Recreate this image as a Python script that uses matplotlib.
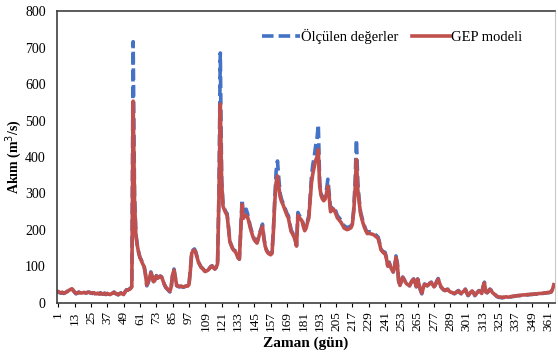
import numpy as np
import matplotlib.pyplot as plt

# daily flow, m3/s
olculen = [
    30, 28, 27, 29, 26, 28, 30, 33, 36, 38,
    40, 34, 29, 25, 27, 30, 28, 26, 28, 29,
    27, 28, 30, 29, 27, 26, 28, 25, 24, 27,
    22, 28, 25, 24, 27, 23, 26, 24, 22, 25,
    27, 30, 26, 24, 22, 25, 28, 24, 22, 30,
    36, 35, 38, 40, 45, 716, 300, 190, 160, 140,
    125, 118, 108, 102, 80, 47, 55, 70, 85, 72,
    57, 62, 75, 68, 72, 74, 71, 60, 50, 42,
    38, 34, 30, 45, 80, 93, 70, 47, 45, 44,
    46, 44, 43, 45, 47, 46, 50, 90, 139, 145,
    148, 140, 125, 112, 105, 98, 95, 90, 85, 88,
    90, 95, 100, 102, 97, 93, 98, 110, 300, 685,
    340, 270, 260, 250, 245, 210, 170, 160, 150, 145,
    143, 135, 125, 120, 200, 284, 239, 245, 257, 245,
    228, 211, 198, 184, 176, 170, 166, 180, 193, 205,
    216, 180, 157, 145, 139, 136, 134, 138, 200, 284,
    360, 389, 340, 300, 284, 275, 266, 255, 245, 239,
    220, 200, 193, 185, 175, 157, 248, 240, 235, 230,
    215, 202, 210, 225, 239, 290, 348, 380, 400, 430,
    450, 489, 330, 300, 290, 284, 290, 310, 339, 300,
    257, 262, 266, 260, 250, 239, 235, 230, 225, 218,
    211, 209, 207, 207, 209, 211, 220, 257, 330, 448,
    330, 284, 250, 235, 221, 210, 200, 193, 195, 195,
    194, 193, 190, 187, 184, 180, 165, 148, 143, 139,
    139, 125, 102, 112, 100, 92, 85, 100, 129, 110,
    60, 47, 60, 71, 65, 57, 52, 50, 47, 55,
    62, 66, 55, 44, 66, 50, 35, 25, 40, 52,
    50, 47, 50, 55, 57, 50, 44, 50, 60, 67,
    55, 44, 40, 36, 34, 36, 38, 33, 30, 29,
    27, 25, 28, 32, 34, 28, 25, 30, 34, 38,
    28, 20, 25, 30, 34, 28, 20, 25, 30, 34,
    30, 25, 45, 57, 30, 28, 32, 38, 35, 28,
    25, 22, 18, 16, 15, 15, 14, 15, 15, 16,
    15, 15, 16, 17, 18, 18, 19, 20, 20, 20,
    21, 21, 22, 22, 22, 22, 23, 23, 23, 24,
    24, 24, 25, 25, 25, 26, 26, 27, 27, 28,
    28, 29, 30, 38, 52,
]

gep = [
    31, 29, 28, 29, 27, 28, 30, 32, 35, 37,
    39, 34, 30, 26, 27, 29, 28, 27, 28, 29,
    28, 28, 29, 29, 27, 27, 28, 26, 25, 27,
    24, 27, 25, 25, 26, 24, 26, 24, 23, 25,
    27, 29, 26, 25, 23, 25, 27, 25, 23, 30,
    35, 35, 37, 39, 45, 553, 280, 185, 158, 138,
    124, 116, 107, 100, 80, 49, 56, 70, 83, 72,
    58, 62, 74, 68, 71, 73, 70, 60, 50, 43,
    39, 35, 32, 45, 78, 90, 69, 48, 46, 45,
    46, 45, 44, 45, 47, 46, 50, 88, 136, 143,
    145, 138, 124, 111, 104, 97, 94, 90, 86, 88,
    90, 94, 99, 101, 97, 93, 97, 108, 290, 545,
    330, 265, 255, 247, 240, 206, 168, 158, 149, 144,
    141, 133, 124, 120, 195, 270, 232, 238, 240, 236,
    222, 206, 194, 181, 173, 168, 164, 177, 190, 200,
    210, 177, 155, 143, 137, 134, 132, 136, 195, 275,
    330, 348, 320, 290, 278, 270, 260, 250, 240, 233,
    215, 196, 190, 182, 172, 156, 240, 234, 230, 225,
    210, 198, 205, 220, 232, 280, 330, 355, 372, 390,
    400, 420, 320, 295, 285, 280, 285, 300, 320, 290,
    250, 254, 258, 252, 243, 233, 229, 224, 219, 212,
    205, 203, 201, 202, 204, 206, 215, 250, 310, 393,
    310, 278, 245, 230, 217, 206, 197, 190, 191, 190,
    189, 188, 186, 183, 180, 176, 162, 146, 141, 137,
    136, 122, 101, 110, 99, 91, 85, 99, 125, 108,
    60, 48, 60, 70, 64, 57, 52, 50, 47, 55,
    61, 65, 55, 45, 65, 50, 36, 27, 40, 51,
    50, 47, 50, 54, 56, 50, 44, 50, 59, 65,
    55, 45, 40, 36, 34, 36, 37, 33, 30, 29,
    27, 26, 28, 31, 33, 28, 26, 30, 33, 37,
    28, 21, 25, 30, 33, 28, 21, 25, 30, 33,
    30, 26, 44, 55, 31, 28, 32, 37, 34, 28,
    25, 22, 19, 17, 16, 16, 15, 16, 16, 17,
    16, 16, 17, 18, 18, 19, 19, 20, 20, 21,
    21, 22, 22, 22, 23, 23, 23, 24, 24, 24,
    25, 25, 25, 26, 26, 26, 27, 27, 28, 28,
    29, 29, 30, 37, 50,
]

gun = np.arange(1, len(olculen) + 1)
xticks = np.arange(1, 366, 12)

plt.rcParams["font.family"] = ["Liberation Serif", "DejaVu Serif"]

fig = plt.figure(figsize=(5.58, 3.56), dpi=100)
ax = fig.add_axes([0.102, 0.149, 0.893, 0.82])

ax.plot(gun, olculen, color="#4472C4", lw=2.6, dashes=(3.2, 1.4),
        label="Ölçülen değerler")
ax.plot(gun, gep, color="#C0504D", lw=2.6, label="GEP modeli")

ax.set_xlim(0, 366)
ax.set_ylim(0, 800)
ax.set_yticks(np.arange(0, 801, 100))
ax.set_xticks(xticks)
ax.set_xticklabels([str(t) for t in xticks], rotation=90, fontsize=9.5)
ax.tick_params(axis="y", labelsize=10, length=0, pad=8)
ax.tick_params(axis="x", length=3, pad=3)

for s in ["left", "bottom"]:
    ax.spines[s].set_color("#404040")
    ax.spines[s].set_linewidth(1.2)
ax.spines["top"].set_color("#404040")
ax.spines["top"].set_linewidth(1.2)
ax.spines["right"].set_color("#c8c8c8")
ax.spines["right"].set_linewidth(0.8)

ax.set_xlabel("Zaman (gün)", fontsize=11, fontweight="bold", labelpad=4)
ax.set_ylabel("Akım (m$^3$/s)", fontsize=10, fontweight="bold", labelpad=1)

ax.legend(loc="upper right", bbox_to_anchor=(0.96, 0.985), ncol=2,
          frameon=False, fontsize=10.5, handlelength=2.6, handletextpad=0.1,
          columnspacing=0.9)

fig.savefig("out.png", dpi=100)
